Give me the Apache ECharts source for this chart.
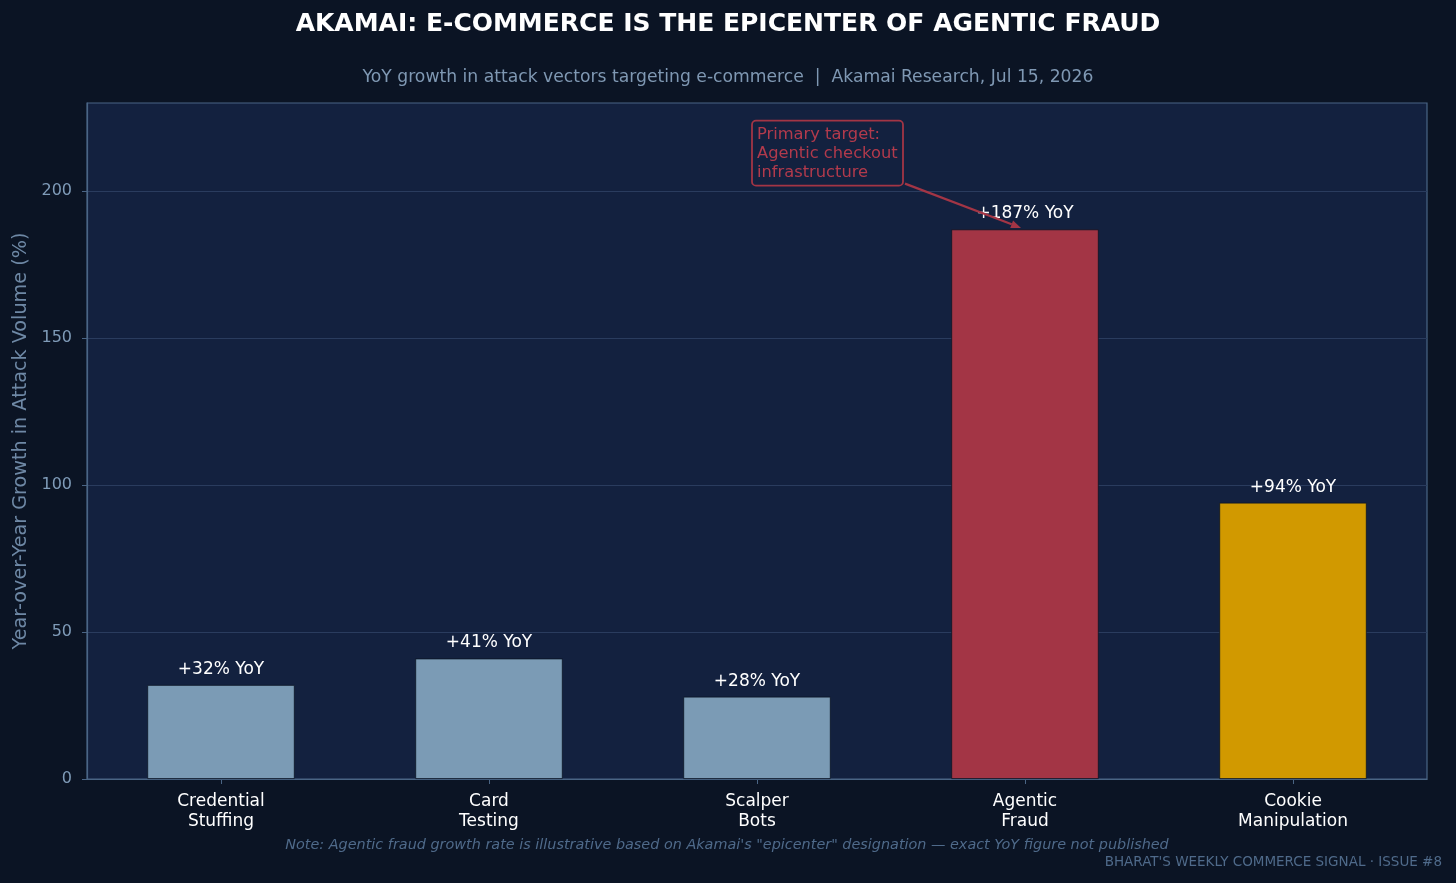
<!DOCTYPE html>
<html><head><meta charset="utf-8">
<script src="https://cdn.jsdelivr.net/npm/echarts@6/dist/echarts.min.js"></script>
<style>html,body{margin:0;padding:0;background:#0b1424;}#c{width:1456px;height:883px;}</style>
</head><body><div id="c"></div>
<script>
const categories = ['Credential\nStuffing','Card\nTesting','Scalper\nBots','Agentic\nFraud','Cookie\nManipulation'];
const growth = [32, 41, 28, 187, 94];
const barColors = ['#7b9bb5','#7b9bb5','#7b9bb5','#a33545','#d19900'];
const yTicks = [0, 50, 100, 150, 200];
const annotationLines = ['Primary target:','Agentic checkout','infrastructure'];
const annotationTextAt = [2, 222.3];
const annotationTarget = [3, 187];

const FONT = 'DejaVu Sans';
const chart = echarts.init(document.getElementById('c'), null, {renderer:'canvas'});
chart.setOption({
  backgroundColor: '#0b1424',
  animation: false,
  textStyle: {fontFamily: FONT},
  title: [
    {text: 'AKAMAI: E-COMMERCE IS THE EPICENTER OF AGENTIC FRAUD', left: 'center', top: 7,
     textStyle: {color: '#ffffff', fontSize: 25, fontWeight: 'bold', fontFamily: FONT}},
    {text: 'YoY growth in attack vectors targeting e-commerce  |  Akamai Research, Jul 15, 2026', left: 'center', top: 64,
     textStyle: {color: '#7f98b3', fontSize: 17.2, fontWeight: 'normal', fontFamily: FONT}},
    {text: 'Note: Agentic fraud growth rate is illustrative based on Akamai\'s "epicenter" designation — exact YoY figure not published',
     left: 722, textAlign: 'center', top: 833,
     textStyle: {color: '#4f6a8a', fontSize: 14.4, fontStyle: 'italic', fontWeight: 'normal', fontFamily: FONT}},
    {text: "BHARAT'S WEEKLY COMMERCE SIGNAL · ISSUE #8", right: 9, top: 850,
     textStyle: {color: '#4f6a8a', fontSize: 13.5, fontWeight: 'normal', fontFamily: FONT}}
  ],
  grid: {left: 87, right: 29, top: 103, bottom: 104, show: true, backgroundColor: '#13213f', borderColor: '#4a6585', borderWidth: 1.2},
  xAxis: {
    type: 'category', data: categories,
    axisLine: {show: true, lineStyle: {color: '#4a6585', width: 1.2}},
    axisTick: {show: true, alignWithLabel: true, length: 5, lineStyle: {color: '#4a6585'}},
    axisLabel: {color: '#ffffff', fontSize: 17, lineHeight: 20, margin: 13, fontFamily: FONT}
  },
  yAxis: {
    type: 'value', min: 0, max: 230, interval: 50,
    name: 'Year-over-Year Growth in Attack Volume (%)', nameLocation: 'middle', nameGap: 55,
    nameTextStyle: {color: '#6e88a5', fontSize: 19.2, fontFamily: FONT},
    axisLine: {show: true, lineStyle: {color: '#4a6585', width: 1.2}},
    axisTick: {show: true, length: 5, customValues: yTicks, lineStyle: {color: '#4a6585'}},
    axisLabel: {color: '#7f9bb8', fontSize: 16, margin: 15, fontFamily: FONT, customValues: yTicks, padding: [4, 0, 0, 0]},
    splitLine: {show: true, lineStyle: {color: '#2a3c5e', width: 1}}
  },
  series: [{
    type: 'bar', barWidth: '55%',
    data: growth.map((v, i) => ({value: v, itemStyle: {color: barColors[i]}})),
    itemStyle: {borderColor: '#0b1424', borderWidth: 0.8},
    label: {show: true, position: 'top', distance: 7, color: '#ffffff', fontSize: 17, fontFamily: FONT,
      formatter: p => '+' + p.value + '% YoY'}
  }]
});

const pt = chart.convertToPixel({seriesIndex: 0}, annotationTextAt);
const tg = chart.convertToPixel({seriesIndex: 0}, annotationTarget);
const lineH = 19, padX = 5, padY = 5;
const boxX = pt[0] - padX, boxY = pt[1] - padY;
const boxW = 151, boxH = 65;
const start = [boxX + boxW + 2, boxY + boxH - 2];
const end = [tg[0] - 4, tg[1] - 1.5];
const ang = Math.atan2(end[1] - start[1], end[0] - start[0]);
const ah = 10, aw = 4;
const tip = end;
const base = [end[0] - ah * Math.cos(ang), end[1] - ah * Math.sin(ang)];
const leftP = [base[0] + aw * Math.sin(ang), base[1] - aw * Math.cos(ang)];
const rightP = [base[0] - aw * Math.sin(ang), base[1] + aw * Math.cos(ang)];
chart.setOption({
  graphic: [
    {type: 'rect', shape: {x: boxX, y: boxY, width: boxW, height: boxH, r: 4}, z: 100,
     style: {fill: '#13213f', stroke: '#a33545', lineWidth: 1.8}},
    {type: 'text', x: pt[0], y: pt[1], z: 101,
     style: {text: annotationLines.join('\n'), fill: '#b23a4c', fontSize: 16.3, lineHeight: lineH, fontFamily: FONT, textVerticalAlign: 'top'}},
    {type: 'line', shape: {x1: start[0], y1: start[1], x2: base[0], y2: base[1]}, z: 101,
     style: {stroke: '#a33545', lineWidth: 2.2}},
    {type: 'polygon', shape: {points: [tip, leftP, rightP]}, z: 101, style: {fill: '#a33545'}}
  ]
});
</script></body></html>
